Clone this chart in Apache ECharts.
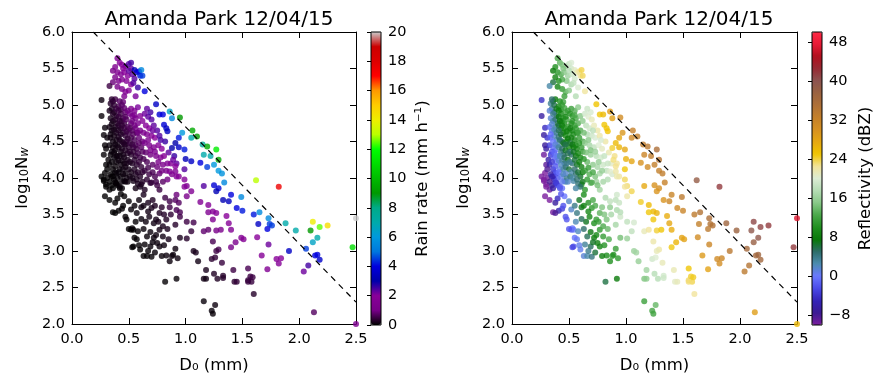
<!DOCTYPE html>
<html><head><meta charset="utf-8">
<script src="https://cdn.jsdelivr.net/npm/echarts@6/dist/echarts.min.js"></script>
<style>html,body{margin:0;padding:0;background:#fff}#c{width:886px;height:386px}</style>
</head><body><div id="c"></div>
<script>
// ---------- texts & ticks ----------
const plotTitle = 'Amanda Park 12/04/15';
const xTicks = [0, 0.5, 1.0, 1.5, 2.0, 2.5];
const yTicks = [2.0, 2.5, 3.0, 3.5, 4.0, 4.5, 5.0, 5.5, 6.0];
const rainTicks = [0, 2, 4, 6, 8, 10, 12, 14, 16, 18, 20];
const dbzTicks = [-8, 0, 8, 16, 24, 32, 40, 48];
const rainRange = [0, 20];
const dbzRange = [-10, 50];
// dashed reference line (D0, log10 Nw)
const refLineD0 = [0.1875, 2.5];
const refLineLogNw = [6.0, 2.3];

// ---------- samples: [D0 (mm), log10 Nw, rain rate (mm/h), reflectivity (dBZ)] ----------
const topCluster = [
[0.40,5.64,1.8,12.6],[0.42,5.58,1.9,13.4],[0.38,5.52,1.4,9.8],[0.44,5.55,2.0,14.5],[0.47,5.53,2.2,16.4],
[0.50,5.56,2.4,18.6],[0.52,5.58,2.5,19.9],[0.52,5.50,2.3,19.1],[0.55,5.48,3.2,20.6],[0.57,5.45,3.6,21.4],
[0.59,5.46,4.0,22.5],[0.61,5.48,5.5,23.8],[0.60,5.40,4.2,22.4],[0.62,5.40,4.5,23.5],[0.64,5.19,4.0,22.3],
[0.36,5.47,1.1,7.7],[0.40,5.45,1.4,10.7],[0.43,5.42,1.6,12.5],[0.46,5.45,1.9,14.9],[0.49,5.40,2.0,16.3],
[0.53,5.42,2.3,18.9],[0.55,5.36,2.4,19.4],[0.48,5.33,1.8,15.1],[0.44,5.35,1.5,12.5],[0.41,5.33,1.3,10.2],
[0.38,5.38,1.1,8.4],[0.36,5.31,0.9,6.1],[0.33,5.26,0.5,2.8],[0.40,5.25,1.1,8.7],[0.44,5.22,1.3,11.2],
[0.47,5.18,1.5,12.9],[0.50,5.20,1.8,15.0],[0.52,5.28,2.0,16.9],[0.58,5.24,2.6,19.8],[0.56,5.12,2.1,17.5],
[0.46,5.12,1.3,11.6],[0.54,5.30,2.4,18.3],[0.50,5.47,2.3,17.7],[0.45,5.50,2.0,14.7]
];
const lineEdge = [
[0.74,5.01,3.5,25.0],[0.77,4.87,3.8,24.8],[0.80,4.87,4.0,25.9],[0.86,4.91,6.5,28.5],[0.88,4.82,5.5,28.3],
[0.95,4.83,9.0,30.7],[0.81,4.73,3.8,24.9],[0.83,4.68,3.5,25.1],[0.84,4.64,3.4,25.1],[0.97,4.62,6.0,29.3],
[1.06,4.65,9.5,32.3],[1.10,4.57,9.0,32.6],[1.05,4.55,7.0,31.0],[1.15,4.46,7.5,32.9],[1.19,4.43,9.5,33.6],
[1.27,4.39,11.5,35.2],[1.29,4.25,9.5,34.2],[1.16,4.32,7.0,31.7],[1.22,4.30,7.0,33.0],[1.25,4.18,6.0,32.6],
[1.29,4.10,6.0,32.7],[1.32,4.06,5.8,33.0],[1.34,3.94,5.5,32.3],[1.19,4.15,4.5,30.8],[1.13,4.21,4.0,29.8],
[1.05,4.23,3.5,27.8],[1.00,4.26,3.3,26.6],[0.99,4.39,4.2,27.6],[0.94,4.55,4.2,27.6],[0.91,4.48,3.0,25.9],
[0.88,4.41,3.0,24.2],[0.94,4.42,3.5,26.3],[0.89,4.25,2.2,23.0],[0.91,4.16,2.0,22.7],[0.86,4.09,1.6,20.3],
[0.99,4.12,2.4,24.9],[0.92,4.02,1.8,21.7],[0.99,3.88,1.8,22.5],[1.16,3.89,2.4,27.4],[1.25,3.90,3.8,29.8],
[1.29,3.86,3.8,30.3],[1.27,3.82,3.2,29.5],[1.40,3.77,4.0,31.9],[1.38,3.68,3.4,31.6],[1.33,3.70,3.2,29.7],
[1.49,3.74,5.5,33.5],[1.45,3.59,4.0,31.2],[1.50,3.55,4.2,31.8]
];
const largeDrops = [
[1.60,3.50,4.2,33.3],[1.65,3.53,5.5,34.5],[1.73,3.45,5.5,35.1],[1.64,3.37,3.5,32.7],[1.74,3.37,4.5,34.5],
[1.76,3.35,4.5,34.7],[1.72,3.30,4.0,33.5],[1.88,3.38,7.0,37.0],[1.97,3.28,7.0,37.4],[2.12,3.40,14.0,40.8],
[2.18,3.33,12.5,41.0],[2.25,3.35,14.5,41.5],[2.10,3.28,9.0,39.4],[2.16,3.18,7.0,39.2],[2.12,3.12,6.5,38.0],
[2.47,3.05,11.0,41.5],[2.06,3.03,4.5,36.3],[1.91,3.00,3.5,33.7],[2.14,2.94,4.0,36.5],[2.16,2.95,4.0,36.9],
[2.18,2.88,3.6,36.5],[2.08,2.80,2.5,34.3],[2.04,2.72,2.2,33.4],[2.13,2.16,0.7,28.6],[1.63,3.19,2.0,30.7],
[1.73,3.09,2.2,31.5],[1.67,2.94,1.8,29.0],[1.80,2.89,2.0,30.8],[1.84,2.90,2.0,31.5],[1.82,2.83,1.8,30.5],
[1.72,2.75,1.6,28.0],[2.50,3.45,20.0,47.0],[2.50,2.00,1.5,26.0],[1.62,3.97,13.0,38.4],[1.82,3.88,17.5,41.5]
];
const midDrops = [
[1.13,3.67,1.6,24.4],[1.20,3.63,1.8,25.8],[1.24,3.54,1.8,25.9],[1.27,3.52,1.9,26.5],[1.20,3.53,1.5,24.8],
[1.24,3.43,1.5,24.8],[1.36,3.48,2.0,27.1],[1.38,3.38,1.8,27.6],[1.40,3.29,1.6,27.1],[1.27,3.28,1.1,24.1],
[1.31,3.29,1.2,24.9],[1.16,3.27,0.8,21.2],[1.20,3.29,0.8,22.4],[1.24,3.13,0.6,21.8],[1.29,3.02,0.6,21.9],
[1.27,3.00,0.5,21.3],[1.40,3.05,1.0,24.7],[1.49,3.18,1.7,27.9],[1.51,3.16,1.7,28.1],[1.44,3.12,1.3,26.3],
[1.23,2.89,0.35,19.2],[1.26,2.91,0.4,20.1],[1.32,2.84,0.45,21.2],[1.42,2.74,0.5,21.4],[1.18,2.74,0.2,16.4],
[1.16,2.62,0.15,14.7],[1.18,2.62,0.15,15.2],[1.25,2.69,0.25,17.7],[1.33,2.66,0.3,19.3],[1.33,2.63,0.3,19.0],
[1.28,2.62,0.25,17.7],[1.43,2.58,0.35,20.7],[1.45,2.58,0.4,21.1],[1.55,2.76,0.6,24.9],[1.55,2.60,0.45,23.3],
[1.57,2.65,0.5,24.2],[1.58,2.58,0.45,23.7],[1.59,2.64,0.5,24.5],[1.55,2.58,0.45,23.1],[1.60,2.41,0.3,22.4],
[1.16,2.31,0.07,11.6],[1.26,2.26,0.1,13.6],[1.23,2.18,0.07,12.1],[1.24,2.14,0.06,11.9],
[1.01,3.40,0.5,18.3],[1.07,3.39,0.55,19.5],[1.05,3.27,0.4,18.2],[1.01,3.17,0.3,15.9],[1.07,3.00,0.2,16.1],
[1.09,2.98,0.2,16.4],[1.11,2.86,0.15,15.8],[0.95,3.18,0.2,14.2],[0.93,2.90,0.1,10.8],[0.92,2.62,0.05,7.7],
[0.82,2.58,0.03,6.0],[0.91,3.03,0.1,11.4],[0.89,2.95,0.08,10.0],
[0.91,4.09,1.6,22.0],[0.94,4.02,1.7,22.3],[0.99,3.98,1.8,23.5],[1.01,3.89,1.6,23.2],[1.05,3.82,1.6,23.7],
[1.01,3.75,1.2,21.8],[0.92,3.77,0.9,19.2],[0.91,3.70,0.7,18.1],[0.94,3.66,0.7,18.7],[0.86,3.60,0.5,15.4],
[0.92,3.56,0.6,17.1],[0.95,3.53,0.6,17.7]
];
const lowNwCluster = [
[0.26,4.02,0.01,-10],[0.28,3.98,0.01,-10],[0.30,3.91,0.01,-10],[0.35,4.02,0.03,-5.7],[0.39,3.93,0.04,-3.4],
[0.42,3.86,0.04,-1.8],[0.47,3.95,0.09,2.6],[0.51,4.02,0.14,5.7],[0.29,3.75,0.01,-10],[0.33,3.70,0.01,-10],
[0.38,3.66,0.02,-6.8],[0.36,3.53,0.01,-9.7],[0.41,3.55,0.02,-5.6],[0.44,3.58,0.03,-3.2],[0.47,3.47,0.03,-2.2],
[0.48,3.43,0.03,-1.9],[0.52,3.57,0.05,1.7],[0.57,3.52,0.07,4.1],[0.61,3.60,0.11,7.0],[0.54,3.29,0.03,0.2],
[0.52,3.29,0.03,-1.1],[0.58,3.27,0.04,2.1],[0.57,3.16,0.03,0.5],[0.54,3.06,0.02,-2.1],[0.60,3.02,0.03,0.6],
[0.64,3.09,0.04,3.3],[0.63,2.93,0.03,1.3],[0.66,2.93,0.03,2.7],[0.69,3.06,0.05,5.3],[0.72,3.18,0.08,7.8],
[0.74,3.22,0.1,9.1],[0.77,3.29,0.14,11.0],[0.80,3.34,0.18,12.6],[0.83,3.43,0.25,14.6],[0.74,3.43,0.16,11.2],
[0.77,3.52,0.23,13.3],[0.70,3.59,0.19,11.0],[0.67,3.66,0.19,10.4],[0.63,3.77,0.19,9.7],[0.64,3.84,0.23,10.8],
[0.61,3.91,0.22,10.1],[0.69,3.93,0.36,14.0],[0.74,3.95,0.53,16.4],[0.77,3.84,0.47,16.5],[0.82,3.73,0.49,17.3],
[0.86,3.68,0.53,18.2],[0.72,3.38,0.13,9.8],[0.77,3.06,0.08,8.7],[0.83,2.94,0.08,9.7],[0.86,2.86,0.08,10.0],
[0.88,2.93,0.1,11.4],[0.80,3.20,0.13,11.2],[0.85,3.16,0.17,12.7],[0.91,3.36,0.3,16.7],[0.95,3.47,0.5,19.1],
[0.38,3.52,0.01,-8.2],[0.53,3.31,0.03,-0.2],[0.55,3.18,0.03,-0.4],[0.53,3.05,0.02,-2.8],[0.59,3.08,0.03,0.7],
[0.70,2.92,0.03,4.3],[0.79,2.93,0.06,8.1],[0.75,3.11,0.08,8.4],[0.68,3.47,0.13,9.0],[0.66,3.20,0.06,5.4]
];
const lowNwFill = [
[0.46,3.75,0.02,-0.1],[0.50,3.68,0.03,1.8],[0.55,3.62,0.05,4.0],[0.59,3.70,0.08,6.9],[0.63,3.62,0.13,8.2],
[0.67,3.54,0.14,9.2],[0.71,3.70,0.25,12.5],[0.73,3.62,0.23,12.6],[0.79,3.60,0.31,14.8],[0.81,3.50,0.27,14.6],
[0.76,3.40,0.17,11.6],[0.65,3.40,0.09,6.9],[0.63,3.30,0.06,5.0],[0.69,3.26,0.08,7.3],[0.71,3.12,0.07,6.7],
[0.67,3.00,0.04,3.8],[0.73,2.98,0.05,6.2],[0.81,3.08,0.1,10.4],[0.84,3.30,0.2,13.7],[0.87,3.50,0.36,16.8],
[0.56,3.40,0.03,2.3],[0.50,3.30,0.02,-2.0],[0.61,3.44,0.07,5.4],[0.45,3.62,0.02,-2.1],[0.40,3.72,0.01,-4.6],
[0.43,3.78,0.02,-1.9],[0.33,3.95,0.01,-8.3],[0.31,4.12,0.02,-8.3]
];
const smallDropColumn = [
[0.26,5.07,0.11,-4.3],[0.26,4.85,0.06,-6.5],[0.29,4.69,0.07,-4.7],[0.28,4.59,0.05,-6.8],[0.29,4.45,0.04,-7.1],
[0.28,4.32,0.03,-9.5],[0.30,4.18,0.02,-8.8],[0.29,4.07,0.02,-10],[0.28,3.96,0.01,-10],[0.30,4.40,0.04,-6.6],
[0.31,4.55,0.07,-4.0],[0.32,4.25,0.04,-6.2],[0.31,4.00,0.02,-9.5],[0.30,3.88,0.01,-10],
[0.34,5.02,0.28,3.5],[0.36,5.05,0.38,5.5],[0.38,5.08,0.5,7.4],[0.35,4.95,0.27,3.6],[0.37,4.90,0.3,4.8],
[0.34,4.82,0.18,1.5],[0.36,4.78,0.2,2.8],[0.39,4.85,0.32,5.8],[0.33,4.70,0.12,-0.8],[0.35,4.65,0.13,0.6],
[0.38,4.70,0.21,3.6],[0.34,4.55,0.1,-1.2],[0.37,4.58,0.14,1.6],[0.39,4.52,0.15,2.5],[0.33,4.45,0.07,-3.3],
[0.36,4.42,0.09,-0.8],[0.38,4.38,0.1,0.4],[0.34,4.32,0.06,-3.5],[0.37,4.28,0.07,-1.4],[0.39,4.22,0.08,-0.5],
[0.33,4.18,0.04,-6.0],[0.36,4.12,0.04,-3.8],[0.38,4.08,0.05,-2.6],[0.34,4.05,0.03,-6.2],[0.37,3.98,0.04,-4.4],
[0.39,3.92,0.04,-3.5],[0.35,3.90,0.02,-6.9],[0.33,3.84,0.02,-9.4],[0.40,4.45,0.14,2.7],[0.40,4.75,0.29,5.7],
[0.40,4.30,0.1,1.2],[0.40,4.00,0.05,-1.8]
];
const smallDropFill = [
[0.35,5.08,0.36,4.9],[0.37,5.00,0.37,5.7],[0.39,4.95,0.41,6.8],[0.33,4.92,0.19,1.4],[0.36,4.88,0.26,3.8],
[0.38,4.80,0.26,4.6],[0.35,4.74,0.17,1.5],[0.37,4.66,0.17,2.3],[0.39,4.62,0.19,3.5],[0.34,4.60,0.11,-0.7],
[0.36,4.50,0.11,0.0],[0.38,4.46,0.12,1.2],[0.35,4.36,0.07,-2.3],[0.37,4.35,0.08,-0.8],[0.39,4.30,0.09,0.3],
[0.35,4.22,0.05,-3.7],[0.38,4.16,0.06,-1.8],[0.36,4.02,0.04,-4.8],[0.39,4.06,0.05,-2.1],[0.38,3.94,0.04,-4.0],
[0.36,3.86,0.02,-6.4],[0.41,4.98,0.54,8.7],[0.43,4.94,0.59,9.7],[0.45,5.04,0.89,12.1],[0.41,4.84,0.39,7.3],
[0.44,4.78,0.45,8.8],[0.46,4.75,0.5,9.9],[0.41,4.72,0.3,6.1],[0.43,4.68,0.33,7.1],[0.45,4.62,0.34,7.9],
[0.41,4.56,0.2,4.5],[0.44,4.50,0.24,6.0],[0.46,4.46,0.26,7.0],[0.41,4.42,0.15,3.1],[0.43,4.36,0.15,3.9],
[0.45,4.32,0.17,4.9],[0.41,4.24,0.1,1.3],[0.44,4.24,0.13,3.4],[0.46,4.20,0.14,4.4],[0.42,4.12,0.08,0.8],
[0.45,4.12,0.11,2.9],[0.43,4.02,0.07,0.5],[0.46,3.96,0.08,2.0],[0.40,3.90,0.04,-2.8],[0.44,3.86,0.05,-0.4]
];
const coreCluster = [
[0.42,5.05,0.7,10.1],[0.44,5.00,0.74,11.0],[0.46,4.96,0.8,12.0],[0.41,4.92,0.47,8.1],[0.43,4.88,0.51,9.1],
[0.47,4.90,0.78,12.1],[0.45,4.82,0.54,9.9],[0.42,4.78,0.37,7.4],[0.48,4.80,0.68,11.8],[0.44,4.72,0.39,8.2],
[0.41,4.65,0.25,5.4],[0.46,4.68,0.43,9.2],[0.49,4.70,0.58,11.3],[0.43,4.60,0.27,6.3],[0.47,4.58,0.37,8.9],
[0.50,4.62,0.52,11.2],[0.42,4.52,0.2,4.8],[0.45,4.48,0.25,6.5],[0.48,4.50,0.34,8.8],[0.44,4.40,0.19,5.0],
[0.47,4.38,0.23,6.9],[0.50,4.42,0.33,9.2],[0.42,4.30,0.12,2.6],[0.46,4.28,0.17,5.2],[0.49,4.25,0.2,6.8],
[0.43,4.18,0.1,2.1],[0.47,4.15,0.14,4.6],[0.50,4.12,0.17,6.2],[0.41,4.08,0.07,-0.3],[0.45,4.05,0.09,2.2],
[0.48,4.00,0.11,3.8],[0.44,3.95,0.07,0.5],[0.42,3.88,0.05,-1.6],
[0.52,4.95,1.3,11.5],[0.55,4.92,1.5,13.0],[0.58,4.97,2.1,15.1],[0.53,4.85,1.1,11.2],[0.56,4.82,1.3,12.5],
[0.60,4.85,1.8,14.9],[0.52,4.75,0.81,9.5],[0.55,4.72,0.95,11.0],[0.58,4.75,1.26,12.9],[0.62,4.78,1.8,15.3],
[0.53,4.65,0.71,9.2],[0.57,4.62,0.87,11.1],[0.60,4.65,1.15,12.9],[0.52,4.55,0.51,7.5],[0.55,4.52,0.6,9.0],
[0.59,4.55,0.85,11.4],[0.62,4.50,0.93,12.5],[0.54,4.42,0.45,7.5],[0.57,4.40,0.52,8.9],[0.61,4.42,0.72,11.2],
[0.52,4.32,0.3,5.2],[0.56,4.30,0.39,7.3],[0.60,4.28,0.49,9.2],[0.53,4.20,0.25,4.7],[0.57,4.18,0.32,6.7],
[0.61,4.15,0.39,8.5],[0.52,4.08,0.17,2.8],[0.56,4.05,0.22,4.8],[0.60,4.02,0.27,6.6],[0.54,3.96,0.15,2.9],
[0.58,3.92,0.19,4.6],[0.62,3.95,0.26,7.0]
];
const coreFill = [
[0.47,4.84,0.68,9.5],[0.49,4.92,0.95,11.5],[0.48,4.64,0.47,8.2],[0.49,4.54,0.4,7.7],[0.47,4.46,0.28,5.7],
[0.49,4.34,0.25,5.7],[0.48,4.20,0.17,3.8],[0.47,4.06,0.11,1.7],[0.49,3.95,0.1,1.8],[0.51,4.88,1.0,10.3],
[0.53,4.78,0.95,10.5],[0.55,4.86,1.3,12.4],[0.51,4.68,0.65,8.3],[0.54,4.60,0.68,9.3],[0.56,4.68,0.93,11.1],
[0.58,4.62,0.93,11.6],[0.51,4.48,0.41,6.3],[0.53,4.46,0.46,7.3],[0.56,4.45,0.55,8.8],[0.59,4.48,0.72,10.7],
[0.51,4.36,0.31,5.1],[0.54,4.36,0.39,6.9],[0.58,4.34,0.49,8.8],[0.62,4.36,0.68,11.1],[0.51,4.22,0.22,3.7],
[0.55,4.25,0.32,6.3],[0.59,4.22,0.4,8.1],[0.55,4.12,0.24,5.0],[0.58,4.08,0.27,6.2],[0.62,4.08,0.35,8.3],
[0.53,4.00,0.16,2.7],[0.57,3.98,0.2,4.7],[0.60,3.88,0.19,5.2],[0.56,3.86,0.14,2.9]
];
const outerCore = [
[0.64,4.88,2.2,19.2],[0.67,4.84,2.3,20.2],[0.70,4.80,2.4,21.1],[0.65,4.72,1.9,18.1],[0.68,4.68,2.0,19.1],
[0.72,4.72,2.3,21.2],[0.75,4.65,2.4,21.8],[0.66,4.60,1.5,17.4],[0.70,4.58,1.8,18.9],[0.73,4.55,2.0,19.9],
[0.77,4.58,2.4,21.9],[0.64,4.48,1.0,15.2],[0.68,4.45,1.2,16.8],[0.72,4.42,1.4,18.2],[0.76,4.45,1.9,20.1],
[0.79,4.40,1.95,20.8],[0.65,4.35,0.8,14.4],[0.69,4.32,0.94,15.9],[0.74,4.30,1.2,17.9],[0.78,4.28,1.4,19.3],
[0.66,4.22,0.63,13.6],[0.71,4.18,0.76,15.3],[0.75,4.15,0.9,16.8],[0.80,4.18,1.2,19.0],[0.64,4.10,0.42,11.4],
[0.68,4.05,0.48,12.8],[0.73,4.02,0.59,14.6],[0.77,4.06,0.81,16.7],[0.66,3.98,0.36,11.2],[0.70,3.94,0.42,12.5],
[0.75,3.90,0.5,14.3],[0.80,3.95,0.72,16.7],
[0.82,4.50,2.6,22.0],[0.85,4.35,2.3,21.6],[0.87,4.20,1.8,20.8],[0.83,4.10,1.2,18.3],[0.90,4.30,2.6,22.8],
[0.88,4.05,1.35,19.6],[0.92,4.20,2.3,22.5],[0.84,3.98,0.95,17.5]
];
const outerFill = [
[0.63,4.62,1.3,14.2],[0.67,4.52,1.3,15.0],[0.71,4.65,2.2,18.0],[0.69,4.38,1.1,14.5],[0.73,4.36,1.3,16.0],
[0.63,4.26,0.58,10.6],[0.67,4.14,0.55,11.2],[0.71,4.08,0.6,12.3],[0.76,4.22,1.1,15.8],[0.79,4.10,0.98,15.8],
[0.81,4.30,1.7,18.6],[0.84,4.20,1.6,18.7],[0.78,4.52,2.45,19.7],[0.69,4.90,2.5,19.7],[0.66,4.95,2.3,18.9]
];

const samples = [].concat(smallDropColumn, smallDropFill, lowNwCluster, lowNwFill, coreCluster, coreFill,
  outerCore, outerFill, topCluster, midDrops, lineEdge, largeDrops);

// colour maps
const nipySpectral = ['#000000','#770088','#880099','#0000aa','#0000dd','#0077dd','#0099dd','#00aaaa','#00aa88','#009900','#00bb00','#00dd00','#00ff00','#bbff00','#eeee00','#ffcc00','#ff9900','#ff0000','#dd0000','#cc0000','#cccccc'];
const reflCmap = ['#7a1e9e','#3a1a92','#3424b8','#4a4ae8','#6a78ff','#4c8cb0','#2e6e6a','#087808','#209020','#4aa84a','#88c888','#b4dcb4','#dcecd4','#f2e49a','#f0c400','#e6a812','#d69022','#c4802a','#ae7038','#9a6240','#8c5450','#962a34','#b0101e','#e81a36','#ff2a46'];

const FONT = 'DejaVu Sans';
const FS = 14.5;     // tick labels
const NFS = 16.5;    // axis titles
const minus = v => (v < 0 ? '\u2212' + (-v) : String(v));

const chart = echarts.init(document.getElementById('c'), null, {renderer: 'canvas'});

const plots = [{left: 72, width: 284, yGap: 41}, {left: 512, width: 285, yGap: 40}];
const grids = [], xAxes = [], yAxes = [];
plots.forEach((p, i) => {
  grids.push({left: p.left, top: 32, width: p.width, height: 292, containLabel: false});
  const tick = {show: true, inside: true, length: 6, lineStyle: {color: '#000', width: 1}};
  const line = {show: true, onZero: false, lineStyle: {color: '#000', width: 1}};
  xAxes.push({gridIndex: i, type: 'value', min: xTicks[0], max: xTicks[xTicks.length - 1], interval: 0.5,
    axisLine: line, axisTick: tick, splitLine: {show: false},
    axisLabel: {color: '#000', fontSize: FS, fontFamily: FONT, margin: 8, formatter: v => v.toFixed(1)},
    name: 'D\u2080 (mm)', nameLocation: 'middle', nameGap: 33,
    nameTextStyle: {color: '#000', fontSize: NFS, fontFamily: FONT}});
  xAxes.push({gridIndex: i, type: 'value', position: 'top', min: xTicks[0], max: xTicks[xTicks.length - 1], interval: 0.5,
    axisLine: line, axisTick: tick, splitLine: {show: false}, axisLabel: {show: false}});
  yAxes.push({gridIndex: i, type: 'value', min: yTicks[0], max: yTicks[yTicks.length - 1], interval: 0.5,
    axisLine: line, axisTick: tick, splitLine: {show: false},
    axisLabel: {color: '#000', fontSize: FS, fontFamily: FONT, margin: 7, formatter: v => v.toFixed(1)},
    name: '{n|log}{s|10}{n|N}{w|w}', nameLocation: 'middle', nameGap: p.yGap, nameRotate: 90,
    nameTextStyle: {color: '#000', fontFamily: FONT,
      rich: {n: {fontSize: NFS, fontFamily: FONT, color: '#000', lineHeight: 20, verticalAlign: 'bottom'},
             s: {fontSize: 11.5, fontFamily: FONT, color: '#000', lineHeight: 7, verticalAlign: 'bottom'},
             w: {fontSize: 11.5, fontFamily: FONT, color: '#000', fontStyle: 'italic', lineHeight: 7, verticalAlign: 'bottom'}}}});
  yAxes.push({gridIndex: i, type: 'value', position: 'right', min: yTicks[0], max: yTicks[yTicks.length - 1], interval: 0.5,
    axisLine: line, axisTick: tick, splitLine: {show: false}, axisLabel: {show: false}});
});

// colourbar grids
const cbars = [
  {left: 371, range: rainRange, ticks: rainTicks, name: 'Rain rate (mm h\u207b\u00b9)', gap: 33},
  {left: 812, range: dbzRange, ticks: dbzTicks, name: 'Reflectivity (dBZ)', gap: 35}
];
cbars.forEach((c, k) => {
  const gi = 2 + k;
  grids.push({left: c.left, top: 32, width: 10, height: 293, show: true, borderColor: '#000', borderWidth: 1,
    backgroundColor: 'transparent', z: 10});
  xAxes.push({gridIndex: gi, type: 'value', show: false, min: 0, max: 1});
  yAxes.push({gridIndex: gi, type: 'value', position: 'right', min: c.range[0], max: c.range[1], z: 11,
    axisLine: {show: false}, splitLine: {show: false},
    axisTick: {show: true, inside: true, length: 4, customValues: c.ticks, lineStyle: {color: '#000', width: 1}},
    axisLabel: {color: '#000', fontSize: FS, fontFamily: FONT, margin: 7, customValues: c.ticks, formatter: minus},
    name: c.name, nameLocation: 'middle', nameGap: c.gap, nameRotate: 90,
    nameTextStyle: {color: '#000', fontSize: NFS, fontFamily: FONT}});
});

const option = {
  animation: false,
  backgroundColor: '#fff',
  textStyle: {fontFamily: FONT},
  title: [
    {text: plotTitle, left: 214, top: 5, textAlign: 'center', textStyle: {fontSize: 20, fontWeight: 'normal', color: '#000', fontFamily: FONT}},
    {text: plotTitle, left: 654, top: 5, textAlign: 'center', textStyle: {fontSize: 20, fontWeight: 'normal', color: '#000', fontFamily: FONT}}
  ],
  grid: grids,
  xAxis: xAxes,
  yAxis: yAxes,
  visualMap: [
    {type: 'continuous', seriesIndex: 0, dimension: 2, min: rainRange[0], max: rainRange[1],
     inRange: {color: nipySpectral}, left: 371, top: 32, itemWidth: 10, itemHeight: 293, padding: 0,
     calculable: false, orient: 'vertical', showLabel: false, hoverLink: false},
    {type: 'continuous', seriesIndex: 1, dimension: 2, min: dbzRange[0], max: dbzRange[1],
     inRange: {color: reflCmap}, left: 812, top: 32, itemWidth: 10, itemHeight: 293, padding: 0,
     calculable: false, orient: 'vertical', showLabel: false, hoverLink: false}
  ],
  series: [
    {type: 'scatter', xAxisIndex: 0, yAxisIndex: 0, symbolSize: 6, silent: true,
     data: samples.map(s => [s[0], s[1], s[2]])},
    {type: 'scatter', xAxisIndex: 2, yAxisIndex: 2, symbolSize: 6, silent: true,
     data: samples.map(s => [s[0], s[1], s[3]])},
    {type: 'line', xAxisIndex: 0, yAxisIndex: 0, symbol: 'none', silent: true, z: 5,
     lineStyle: {color: '#000', width: 1.2, type: [6, 5]},
     data: refLineD0.map((d, i) => [d, refLineLogNw[i]])},
    {type: 'line', xAxisIndex: 2, yAxisIndex: 2, symbol: 'none', silent: true, z: 5,
     lineStyle: {color: '#000', width: 1.2, type: [6, 5]},
     data: refLineD0.map((d, i) => [d, refLineLogNw[i]])}
  ]
};
chart.setOption(option);
</script>
</body></html>
